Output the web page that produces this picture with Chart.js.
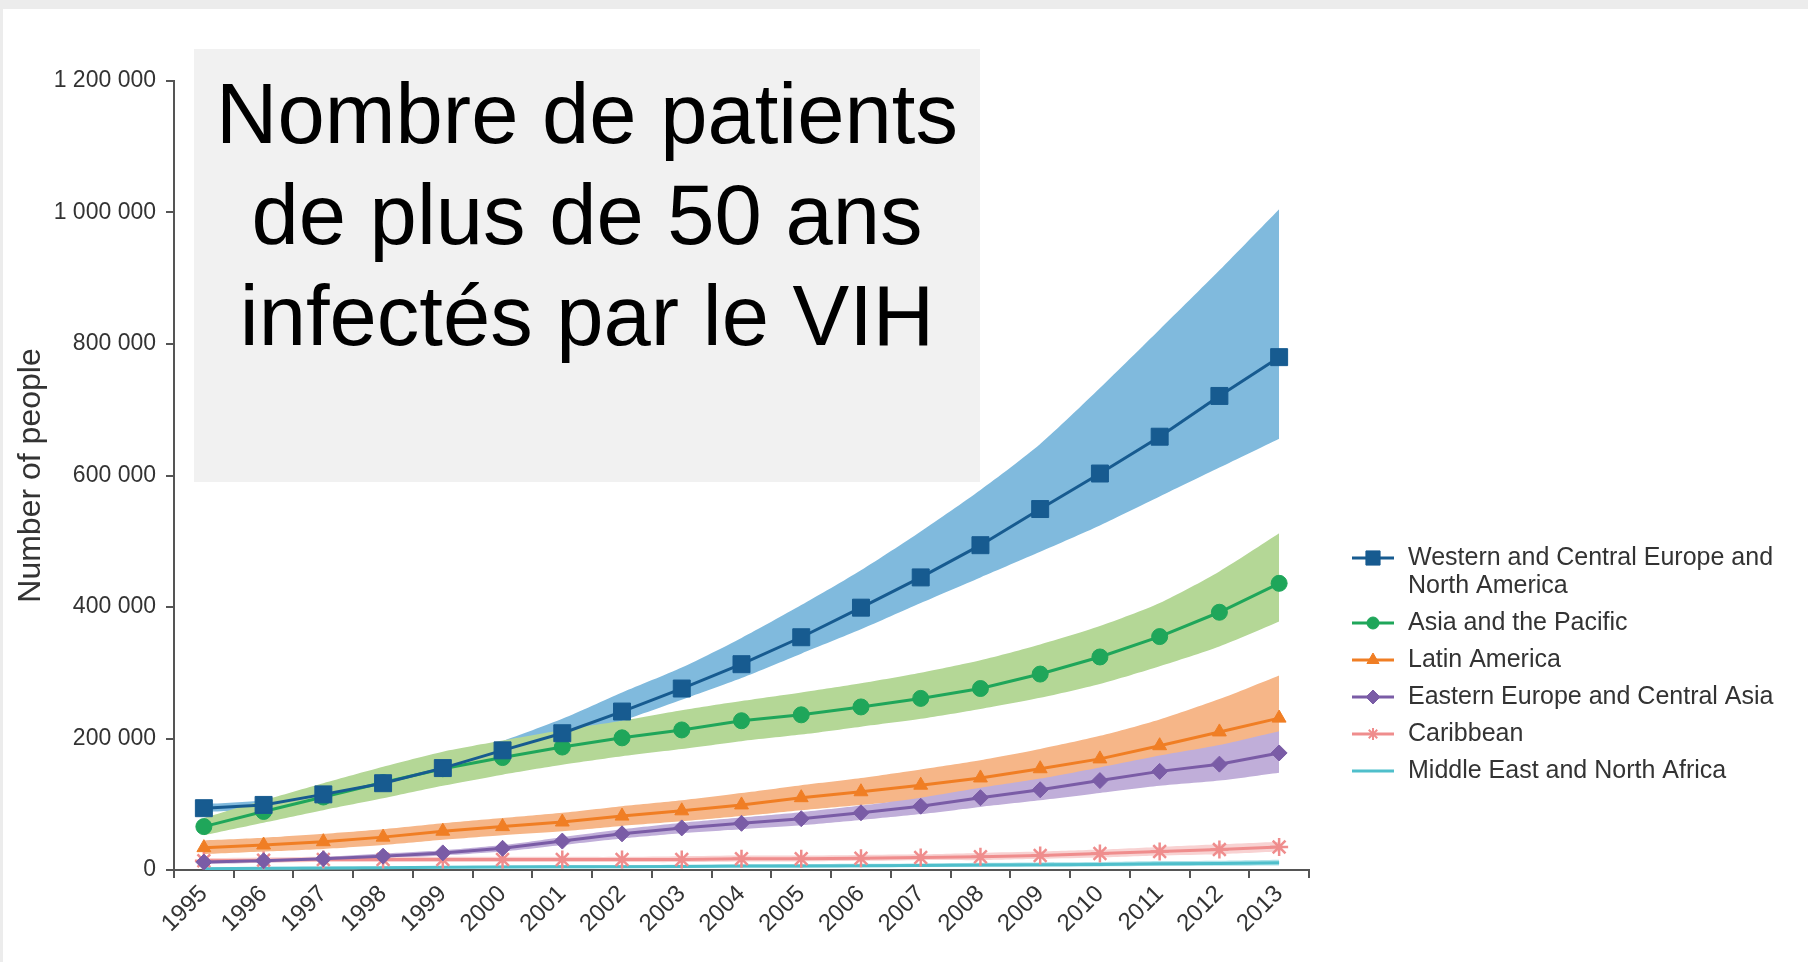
<!DOCTYPE html>
<html>
<head>
<meta charset="utf-8">
<script src="https://cdn.jsdelivr.net/npm/chart.js@4.4.1/dist/chart.umd.min.js"></script>
<style>
html, body { margin: 0; padding: 0; background: #ffffff; }
#wrap { position: relative; width: 1808px; height: 962px; overflow: hidden; background: #ffffff; }
#c { position: absolute; left: 0; top: 0; }
#title {
  position: absolute; left: 194px; top: 49px; width: 786px; height: 419px; padding-top: 14px;
  background: #f1f1f1; color: #000; text-align: center;
  font-family: "Liberation Sans", Arial, sans-serif; font-size: 85px; line-height: 101px;
}
</style>
</head>
<body>
<div id="wrap">
  <canvas id="c" width="1808" height="962"></canvas>
  <div id="title">Nombre de patients<br>de plus de 50 ans<br>infectés par le VIH</div>
</div>
<script>
// ---------- data ----------
const years = ['1995','1996','1997','1998','1999','2000','2001','2002','2003','2004','2005','2006','2007','2008','2009','2010','2011','2012','2013'];

const yTickValues = [0, 200000, 400000, 600000, 800000, 1000000, 1200000];
const yTickLabels = ['0', '200 000', '400 000', '600 000', '800 000', '1 000 000', '1 200 000'];

const westernMid  = [94000, 99000, 115000, 132000, 155000, 182000, 208000, 241000, 276000, 313000, 354000, 399000, 445000, 494000, 549000, 603000, 659000, 721000, 780000];
const westernHigh = [100000, 106000, 122000, 140000, 165000, 196000, 230000, 270000, 308000, 353000, 403000, 456000, 515000, 578000, 648000, 733000, 822000, 912000, 1005000];
const westernLow  = [88000, 93000, 108000, 124000, 146000, 170000, 199000, 227000, 259000, 292000, 329000, 366000, 406000, 445000, 484000, 524000, 568000, 612000, 656000];

const asiaMid  = [66000, 89000, 111000, 133000, 154000, 171000, 187000, 201000, 213000, 227000, 236000, 248000, 261000, 276000, 298000, 324000, 355000, 392000, 436000];
const asiaHigh = [79000, 106000, 132000, 157000, 180000, 197000, 213000, 227000, 243000, 257000, 270000, 284000, 300000, 319000, 343000, 371000, 406000, 454000, 512000];
const asiaLow  = [53000, 72000, 91000, 109000, 128000, 145000, 160000, 173000, 184000, 196000, 206000, 218000, 230000, 245000, 262000, 283000, 310000, 340000, 378000];

const latinMid  = [34000, 38000, 43000, 50000, 59000, 66000, 73000, 82000, 90000, 99000, 110000, 119000, 129000, 140000, 154000, 169000, 189000, 210000, 231000];
const latinHigh = [45000, 49000, 55000, 62000, 71000, 79000, 87000, 97000, 106000, 117000, 129000, 140000, 153000, 167000, 184000, 204000, 229000, 260000, 296000];
const latinLow  = [24000, 28000, 32000, 38000, 46000, 53000, 59000, 67000, 74000, 82000, 91000, 99000, 107000, 116000, 127000, 139000, 155000, 172000, 190000];

const eastMid  = [12000, 14000, 17000, 21000, 26000, 33000, 44000, 55000, 64000, 71000, 78000, 87000, 97000, 110000, 122000, 136000, 150000, 161000, 178000];
const eastHigh = [15000, 17000, 20000, 25000, 30000, 38000, 50000, 62000, 72000, 80000, 88000, 98000, 110000, 125000, 139000, 156000, 174000, 190000, 211000];
const eastLow  = [9000, 11000, 14000, 17000, 22000, 28000, 38000, 48000, 56000, 62000, 68000, 76000, 85000, 96000, 106000, 117000, 128000, 136000, 148000];

const caribMid  = [14000, 15000, 16000, 16000, 16000, 16000, 16000, 16000, 16000, 17000, 17000, 18000, 19000, 20000, 22000, 25000, 28000, 31000, 35000];
const caribHigh = [18000, 19000, 20000, 20000, 20000, 20000, 20000, 20000, 21000, 22000, 22000, 23000, 24000, 26000, 28000, 31000, 35000, 39000, 43000];
const caribLow  = [10000, 11000, 12000, 12000, 12000, 12000, 12000, 12000, 12000, 13000, 13000, 14000, 15000, 15000, 17000, 19000, 22000, 24000, 28000];

const menaMid  = [2000, 2500, 3000, 3500, 4000, 4500, 5000, 5000, 5500, 6000, 6000, 6500, 7000, 7500, 8000, 8500, 9500, 10000, 11000];
const menaHigh = [4000, 4500, 5000, 5500, 6000, 7000, 7500, 7500, 8000, 8500, 9000, 9500, 10000, 11000, 11500, 12000, 13500, 14000, 15500];
const menaLow  = [0, 500, 1000, 1500, 2000, 2500, 2500, 3000, 3000, 3500, 3500, 4000, 4500, 4500, 5000, 5500, 6000, 6500, 7000];

const seriesNames = [
  'Western and Central Europe and North America',
  'Asia and the Pacific',
  'Latin America',
  'Eastern Europe and Central Asia',
  'Caribbean',
  'Middle East and North Africa'
];
const legendLines = [
  ['Western and Central Europe and', 'North America'],
  ['Asia and the Pacific'],
  ['Latin America'],
  ['Eastern Europe and Central Asia'],
  ['Caribbean'],
  ['Middle East and North Africa']
];

// ---------- styles ----------
const series = [
  { name: seriesNames[0], mid: westernMid, hi: westernHigh, lo: westernLow, color: '#175b90', band: 'rgb(128,186,221)', style: 'rect',     r: 12, lr: 10 },
  { name: seriesNames[1], mid: asiaMid,    hi: asiaHigh,    lo: asiaLow,    color: '#1fa65a', band: 'rgb(180,215,150)', style: 'circle',   r: 8,  lr: 6 },
  { name: seriesNames[2], mid: latinMid,   hi: latinHigh,   lo: latinLow,   color: '#f07e24', band: 'rgb(246,182,136)', style: 'triangle', r: 8,  lr: 7 },
  { name: seriesNames[3], mid: eastMid,    hi: eastHigh,    lo: eastLow,    color: '#7a5ca6', band: 'rgb(192,174,217)', style: 'rectRot',  r: 8,  lr: 7 },
  { name: seriesNames[4], mid: caribMid,   hi: caribHigh,   lo: caribLow,   color: '#ef8d8d', band: 'rgb(248,210,210)', style: 'star',     r: 9,  lr: 6 },
  { name: seriesNames[5], mid: menaMid,    hi: menaHigh,    lo: menaLow,    color: '#4fbfcb', band: 'rgb(175,226,232)', style: 'circle',   r: 0,  lr: 0 }
];

const FONT = '"Liberation Sans", Arial, sans-serif';

// line datasets first (drawn last = on top)
const datasets = [];
series.forEach(s => {
  datasets.push({
    label: s.name,
    data: s.mid,
    borderColor: s.color,
    backgroundColor: s.color,
    borderWidth: 3,
    pointStyle: s.style,
    pointRadius: s.r,
    pointBackgroundColor: s.color,
    pointBorderColor: s.color,
    pointBorderWidth: s.style === 'star' ? 2.5 : 1,
    fill: false,
    tension: 0
  });
});
// band datasets: last in array is painted first (bottom)
series.slice().reverse().forEach(s => {
  const hiIndex = datasets.length;
  datasets.push({
    label: s.name + ' high',
    data: s.hi,
    borderWidth: 0,
    borderColor: 'rgba(0,0,0,0)',
    pointRadius: 0,
    fill: false,
    tension: 0.25
  });
  datasets.push({
    label: s.name + ' low',
    data: s.lo,
    borderWidth: 0,
    borderColor: 'rgba(0,0,0,0)',
    backgroundColor: s.band,
    pointRadius: 0,
    fill: { target: hiIndex },
    tension: 0.25
  });
});

const frame = {
  id: 'frame',
  beforeDraw(chart) {
    const ctx = chart.ctx;
    ctx.save();
    ctx.fillStyle = '#ffffff';
    ctx.fillRect(0, 0, chart.width, chart.height);
    ctx.fillStyle = '#ececec';
    ctx.fillRect(0, 0, chart.width, 9);
    ctx.fillRect(0, 0, 3, chart.height);
    ctx.restore();
  }
};

const sideLegend = {
  id: 'sideLegend',
  afterDraw(chart) {
    const ctx = chart.ctx;
    ctx.save();
    ctx.font = '25px ' + FONT;
    ctx.textBaseline = 'middle';
    ctx.textAlign = 'left';
    let y = 558;
    series.forEach((s, i) => {
      ctx.strokeStyle = s.color;
      ctx.lineWidth = 3;
      ctx.beginPath();
      ctx.moveTo(1352, y);
      ctx.lineTo(1394, y);
      ctx.stroke();
      if (s.lr > 0) {
        ctx.fillStyle = s.color;
        ctx.strokeStyle = s.color;
        ctx.lineWidth = s.style === 'star' ? 2 : 1;
        Chart.helpers.drawPoint(ctx, { pointStyle: s.style, radius: s.lr, rotation: 0, borderWidth: ctx.lineWidth }, 1373, y);
      }
      ctx.fillStyle = '#333333';
      const lines = legendLines[i];
      lines.forEach((t, k) => ctx.fillText(t, 1408, y + k * 28));
      y += (lines.length - 1) * 28 + 37;
    });
    ctx.restore();
  }
};

new Chart(document.getElementById('c'), {
  type: 'line',
  data: { labels: years, datasets: datasets },
  options: {
    responsive: false,
    animation: false,
    devicePixelRatio: 1,
    layout: { padding: { top: 81, right: 499, bottom: 0, left: 0 } },
    plugins: {
      legend: { display: false },
      tooltip: { enabled: false },
      filler: { drawTime: 'beforeDatasetsDraw' }
    },
    scales: {
      x: {
        type: 'category',
        offset: true,
        grid: { display: true, drawOnChartArea: false, drawTicks: true, tickLength: 8, offset: true, color: '#555555', lineWidth: 2 },
        border: { display: true, color: '#555555', width: 2 },
        ticks: { font: { size: 24, family: FONT }, color: '#333333', minRotation: 45, maxRotation: 45, autoSkip: false, padding: 2 },
        afterFit(scale) { scale.height = 92; }
      },
      y: {
        min: 0,
        max: 1200000,
        grid: { display: true, drawOnChartArea: false, drawTicks: true, tickLength: 8, color: '#555555', lineWidth: 2 },
        border: { display: true, color: '#555555', width: 2 },
        ticks: {
          stepSize: 200000,
          font: { size: 23, family: FONT },
          color: '#333333',
          padding: 10,
          callback(v) { const i = yTickValues.indexOf(v); return i >= 0 ? yTickLabels[i] : ''; }
        },
        title: { display: true, text: 'Number of people', font: { size: 32, family: FONT }, color: '#333333', padding: { top: 12, bottom: 0 } },
        afterFit(scale) { scale.width = 174; }
      }
    }
  },
  plugins: [frame, sideLegend]
});
</script>
</body>
</html>
